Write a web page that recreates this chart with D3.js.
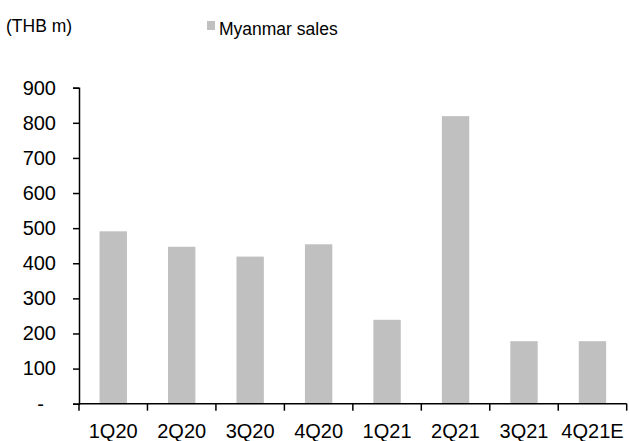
<!DOCTYPE html>
<html><head><meta charset="utf-8">
<script src="https://cdn.jsdelivr.net/npm/d3@7"></script>
<style>body{margin:0;background:#fff}svg{display:block;font-family:"Liberation Sans",Arial,sans-serif}</style>
</head><body><svg id="c" width="629" height="441"></svg>
<script>
const categories = ["1Q20","2Q20","3Q20","4Q20","1Q21","2Q21","3Q21","4Q21E"];
const sales = [491, 447, 419, 454, 239, 819, 178, 178];
const yTicks = [0,100,200,300,400,500,600,700,800,900];
const seriesName = "Myanmar sales";
const unitLabel = "(THB m)";

const svg = d3.select("#c");
const mLeft = 79, mRight = 626.7, mTop = 87.7, mBottom = 403.7;
const x = d3.scaleBand().domain(categories).range([mLeft, mRight]).paddingInner(0.6).paddingOuter(0.3);
const xb = d3.scaleBand().domain(categories).range([mLeft, mRight]);
const y = d3.scaleLinear().domain([0, 900]).range([mBottom, mTop]);

svg.append("g").selectAll("rect").data(sales).join("rect")
  .attr("x", (d,i)=>x(categories[i])).attr("width", x.bandwidth())
  .attr("y", d=>y(d)).attr("height", d=>mBottom - y(d)).attr("fill", "#c0c0c0");

// y axis
const ya = svg.append("g").attr("transform", `translate(${mLeft},0)`)
  .call(d3.axisLeft(y).tickValues(yTicks).tickSizeOuter(0).tickSize(6).tickPadding(17)
    .tickFormat(d => d === 0 ? "-" : d3.format("d")(d)));
ya.select(".domain").attr("stroke","#000").attr("stroke-width",1.5);
ya.selectAll(".tick line").attr("stroke","#000").attr("stroke-width",1.5);
ya.selectAll(".tick text").attr("font-size","20px").attr("fill","#000")
  .attr("dx", d => d === 0 ? -12 : 0);

// x axis
const xa = svg.append("g").attr("transform", `translate(0,${mBottom})`);
xa.append("line").attr("x1", mLeft).attr("x2", mRight).attr("stroke","#000").attr("stroke-width",1.5);
const bounds = categories.map(c => xb(c)).concat([mRight]);
xa.selectAll("line.t").data(bounds).join("line").attr("class","t")
  .attr("x1", d=>d).attr("x2", d=>d).attr("y1", 0).attr("y2", 7)
  .attr("stroke","#000").attr("stroke-width",1.5);
xa.selectAll("text").data(categories).join("text")
  .attr("x", d => xb(d) + xb.bandwidth()/2).attr("y", 34)
  .attr("text-anchor","middle").attr("font-size","20px").attr("fill","#000").text(d=>d);

// unit label & legend
svg.append("text").attr("x", 6).attr("y", 32).attr("font-size","17.5px").attr("fill","#000").text(unitLabel);
svg.append("rect").attr("x", 207).attr("y", 21).attr("width", 8).attr("height", 9).attr("fill","#c0c0c0");
svg.append("text").attr("x", 219).attr("y", 35).attr("font-size","17.5px").attr("fill","#000").text(seriesName);
</script></body></html>
